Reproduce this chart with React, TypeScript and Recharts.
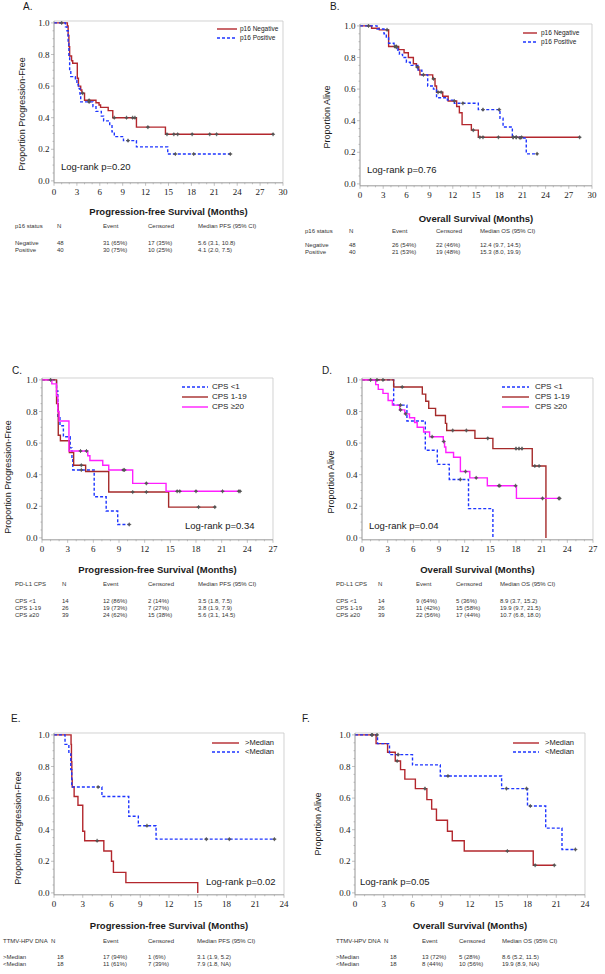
import React from 'react';
import { LineChart, Line, XAxis, YAxis, ReferenceArea } from 'recharts';

// each row: [months, survival] or [months, survival, 1] for a censored mark
type KM = number[][];

// A. PFS by p16
const pfsP16Neg: KM = [
  [0, 1], [1.75, 0.98], [1.85, 0.92], [1.95, 0.85], [2.05, 0.79], [2.3, 0.76], [2.45, 0.745],
  [3.05, 0.65], [3.2, 0.6], [3.5, 0.575], [3.65, 0.555], [3.75, 0.555, 1], [4.0, 0.51], [4.6, 0.51, 1],
  [5.5, 0.495], [5.9, 0.48], [6.1, 0.465], [7.1, 0.445], [7.7, 0.4], [7.9, 0.4, 1], [9.5, 0.4, 1],
  [10.3, 0.4, 1], [10.6, 0.4, 1], [10.8, 0.34], [12.3, 0.34, 1], [14.6, 0.295], [14.8, 0.295, 1],
  [15.7, 0.295, 1], [16.2, 0.295, 1], [18.1, 0.295, 1], [20.4, 0.295, 1], [21.3, 0.295, 1], [28.7, 0.295, 1],
];
const pfsP16Pos: KM = [
  [0, 1], [1.0, 1, 1], [1.5, 0.975], [1.7, 0.95], [1.85, 0.87], [1.95, 0.78], [2.05, 0.7], [2.2, 0.66],
  [2.8, 0.635], [3.0, 0.61], [3.2, 0.585], [3.4, 0.55], [3.5, 0.5], [4.6, 0.5, 1], [5.1, 0.47],
  [5.5, 0.44], [6.2, 0.41], [6.5, 0.38], [7.3, 0.35], [7.6, 0.31], [7.9, 0.28], [9.1, 0.255],
  [9.7, 0.255, 1], [10.8, 0.215], [14.9, 0.17], [15.9, 0.17, 1], [18.3, 0.17, 1], [23.1, 0.17, 1],
];

// B. OS by p16
const osP16Neg: KM = [
  [0, 1], [1.1, 1, 1], [1.5, 0.985], [2.5, 0.975], [3.5, 0.975, 1], [3.7, 0.87], [4.5, 0.87, 1],
  [4.7, 0.87, 1], [5.0, 0.85], [5.7, 0.83], [6.25, 0.8], [6.9, 0.76], [7.3, 0.74], [7.4, 0.74, 1],
  [7.6, 0.72], [7.75, 0.69], [8.2, 0.69, 1], [9.4, 0.665], [9.5, 0.665, 1], [9.7, 0.62], [9.9, 0.58],
  [10.1, 0.58, 1], [10.5, 0.58, 1], [10.7, 0.555], [11.4, 0.525], [12.2, 0.525, 1], [12.5, 0.49],
  [12.85, 0.45], [13.2, 0.375], [14.4, 0.34], [14.65, 0.34, 1], [15.3, 0.295], [15.5, 0.295, 1],
  [15.9, 0.295, 1], [17.9, 0.295, 1], [19.8, 0.295, 1], [20.2, 0.295, 1], [20.9, 0.295, 1], [28.4, 0.295, 1],
];
const osP16Pos: KM = [
  [0, 1], [2.2, 0.98], [3.1, 0.95], [3.4, 0.93], [3.7, 0.89], [4.4, 0.87], [4.7, 0.865, 1], [4.9, 0.84],
  [5.1, 0.82], [5.5, 0.8], [6.0, 0.77], [6.5, 0.75], [7.5, 0.72], [8.0, 0.69], [8.75, 0.62], [9.5, 0.6],
  [9.9, 0.545], [11.3, 0.53], [12.2, 0.51], [13.3, 0.51, 1], [15.3, 0.47], [15.9, 0.47, 1], [18.0, 0.47, 1],
  [18.1, 0.415], [18.5, 0.36], [19.7, 0.295], [19.8, 0.295, 1], [20.2, 0.295, 1], [20.7, 0.29, 1],
  [21.5, 0.19], [22.9, 0.19, 1],
];

// C. PFS by PD-L1 CPS
const pfsCpsLow: KM = [
  [0, 1], [1.0, 1, 1], [1.7, 0.93], [1.85, 0.77], [2.1, 0.71], [2.5, 0.64], [3.3, 0.57], [3.5, 0.5],
  [3.6, 0.43], [4.6, 0.43, 1], [6.1, 0.26], [7.5, 0.17], [8.85, 0.085], [10.2, 0.085, 1],
];
const pfsCpsMid: KM = [
  [0, 1], [1.7, 0.85], [1.9, 0.65], [2.15, 0.615], [3.2, 0.54], [3.7, 0.46], [4.6, 0.46, 1], [5.1, 0.42],
  [7.8, 0.29], [10.6, 0.29, 1], [12.2, 0.29, 1], [14.8, 0.195], [18.3, 0.195, 1], [20.2, 0.195, 1],
];
const pfsCpsHigh: KM = [
  [0, 1], [1.15, 0.975], [1.7, 0.9], [1.85, 0.8], [2.0, 0.74], [3.15, 0.55], [4.5, 0.55, 1], [5.2, 0.55, 1],
  [5.35, 0.52], [5.6, 0.49], [7.1, 0.46], [7.8, 0.43], [9.5, 0.43, 1], [9.65, 0.43, 1], [10.6, 0.345],
  [12.2, 0.345, 1], [14.5, 0.295], [15.8, 0.295, 1], [16.1, 0.295, 1], [18.0, 0.295, 1], [21.1, 0.295, 1],
  [23.0, 0.295, 1], [23.15, 0.295, 1],
];

// D. OS by PD-L1 CPS
const osCpsLow: KM = [
  [0, 1], [3.7, 0.84], [4.5, 0.84, 1], [5.25, 0.74], [7.4, 0.555], [8.8, 0.465], [10.2, 0.37],
  [11.5, 0.37, 1], [12.45, 0.185], [15.3, 0],
];
const osCpsMid: KM = [
  [0, 1], [1.0, 1, 1], [1.75, 1, 1], [2.45, 1, 1], [3.7, 0.955], [4.7, 0.955, 1], [7.05, 0.91],
  [7.45, 0.865], [7.8, 0.82], [8.6, 0.775], [9.75, 0.725], [9.9, 0.68], [10.6, 0.68, 1], [12.2, 0.68, 1],
  [13.2, 0.63], [14.7, 0.63, 1], [15.3, 0.565], [18.0, 0.565, 1], [18.35, 0.565, 1], [18.7, 0.565, 1],
  [19.9, 0.455], [20.2, 0.455, 1], [20.7, 0.455, 1], [21.5, 0],
];
const osCpsHigh: KM = [
  [0, 1], [1.6, 0.97], [1.9, 0.94], [2.45, 0.915], [3.05, 0.87], [3.55, 0.84], [4.4, 0.81], [4.5, 0.81, 1],
  [5.0, 0.785], [5.1, 0.785, 1], [5.55, 0.76], [6.15, 0.73], [6.45, 0.7], [7.2, 0.67], [7.9, 0.64],
  [8.2, 0.64, 1], [9.5, 0.61], [9.55, 0.61, 1], [9.65, 0.575], [9.8, 0.54], [10.7, 0.51], [11.5, 0.42],
  [12.1, 0.42, 1], [12.6, 0.38], [13.35, 0.38, 1], [14.65, 0.33], [16.0, 0.33, 1], [16.1, 0.33, 1],
  [17.95, 0.33, 1], [18.05, 0.25], [21.1, 0.25, 1], [23.0, 0.25, 1], [23.1, 0.25, 1],
];

// E. PFS by TTMV-HPV DNA
const pfsTtmvHigh: KM = [
  [0, 1], [1.78, 0.94], [1.82, 0.83], [1.86, 0.72], [1.9, 0.67], [2.1, 0.61], [2.5, 0.555], [3.0, 0.39],
  [3.2, 0.33], [4.5, 0.33, 1], [5.2, 0.265], [6.0, 0.2], [6.2, 0.13], [7.5, 0.065], [15.0, 0],
];
const pfsTtmvLow: KM = [
  [0, 1], [1.15, 0.94], [1.55, 0.88], [1.75, 0.78], [1.85, 0.67], [4.6, 0.67, 1], [5.0, 0.61],
  [7.8, 0.485], [8.8, 0.425], [9.7, 0.425, 1], [10.65, 0.34], [15.9, 0.34, 1], [18.3, 0.34, 1], [23.0, 0.34, 1],
];

// F. OS by TTMV-HPV DNA
const osTtmvHigh: KM = [
  [0, 1], [1.8, 1, 1], [2.2, 0.945], [3.4, 0.89], [4.2, 0.835], [4.4, 0.835, 1], [4.75, 0.78], [5.2, 0.72],
  [6.3, 0.66], [7.3, 0.66, 1], [7.5, 0.59], [8.0, 0.53], [8.5, 0.46], [9.65, 0.39], [10.15, 0.33],
  [11.4, 0.265], [15.9, 0.265, 1], [18.6, 0.175], [18.8, 0.175, 1], [20.8, 0.175, 1],
];
const osTtmvLow: KM = [
  [0, 1], [1.75, 1, 1], [2.3, 1, 1], [2.35, 0.945], [3.6, 0.875], [4.5, 0.875, 1], [6.0, 0.81],
  [8.9, 0.74], [9.7, 0.74, 1], [15.3, 0.66], [15.8, 0.66, 1], [17.9, 0.66, 1], [18.0, 0.55],
  [18.3, 0.55, 1], [19.9, 0.41], [21.6, 0.275], [23.0, 0.275, 1],
];

const xMajor30 = [0, 3, 6, 9, 12, 15, 18, 21, 24, 27, 30];
const xMajor27 = [0, 3, 6, 9, 12, 15, 18, 21, 24, 27];
const xMajor24 = [0, 3, 6, 9, 12, 15, 18, 21, 24];
const yMajor = [0, 0.2, 0.4, 0.6, 0.8, 1.0];

// summary tables under each plot
const headP16Pfs = ['p16 status', 'N', 'Event', 'Censored', 'Median PFS (95% CI)'];
const rowsP16Pfs = [
  ['Negative', '48', '31 (65%)', '17 (35%)', '5.6 (3.1, 10.8)'],
  ['Positive', '40', '30 (75%)', '10 (25%)', '4.1 (2.0, 7.5)'],
];
const headP16Os = ['p16 status', 'N', 'Event', 'Censored', 'Median OS (95% CI)'];
const rowsP16Os = [
  ['Negative', '48', '26 (54%)', '22 (46%)', '12.4 (9.7, 14.5)'],
  ['Positive', '40', '21 (53%)', '19 (48%)', '15.3 (8.0, 19.9)'],
];
const headCpsPfs = ['PD-L1 CPS', 'N', 'Event', 'Censored', 'Median PFS (95% CI)'];
const rowsCpsPfs = [
  ['CPS <1', '14', '12 (86%)', '2 (14%)', '3.5 (1.8, 7.5)'],
  ['CPS 1-19', '26', '19 (73%)', '7 (27%)', '3.8 (1.9, 7.9)'],
  ['CPS ≥20', '39', '24 (62%)', '15 (38%)', '5.6 (3.1, 14.5)'],
];
const headCpsOs = ['PD-L1 CPS', 'N', 'Event', 'Censored', 'Median OS (95% CI)'];
const rowsCpsOs = [
  ['CPS <1', '14', '9 (64%)', '5 (36%)', '8.9 (3.7, 15.2)'],
  ['CPS 1-19', '26', '11 (42%)', '15 (58%)', '19.9 (9.7, 21.5)'],
  ['CPS ≥20', '39', '22 (56%)', '17 (44%)', '10.7 (6.8, 18.0)'],
];
const headTtmvPfs = ['TTMV-HPV DNA', 'N', 'Event', 'Censored', 'Median PFS (95% CI)'];
const rowsTtmvPfs = [
  ['>Median', '18', '17 (94%)', '1 (6%)', '3.1 (1.9, 5.2)'],
  ['<Median', '18', '11 (61%)', '7 (39%)', '7.9 (1.8, NA)'],
];
const headTtmvOs = ['TTMV-HPV DNA', 'N', 'Event', 'Censored', 'Median OS (95% CI)'];
const rowsTtmvOs = [
  ['>Median', '18', '13 (72%)', '5 (28%)', '8.6 (5.2, 11.5)'],
  ['<Median', '18', '8 (44%)', '10 (56%)', '19.9 (8.9, NA)'],
];

const SANS = '"Liberation Sans", Arial, sans-serif';
const SERIF = '"Liberation Serif", "Times New Roman", serif';
const RED = '#B3272D';
const DARKRED = '#A52A2A';
const BLUE = '#1E35FF';
const MAGENTA = '#FF1EFF';
const Y_LO = -0.012;
const Y_HI = 1.012;
const Y_AXIS_W = 40;
const X_AXIS_H = 16;
const RIGHT_PAD = 10;

function toRows(km: KM) {
  return km.map(([t, s, c]) => ({ t, s, c: c ? 1 : 0 }));
}

function steps(max: number, step: number) {
  const out: number[] = [];
  for (let i = 0; i * step <= max + 1e-9; i++) out.push(+(i * step).toFixed(4));
  return out;
}

const censorDot = (props: any) => {
  const { cx, cy, payload, index } = props;
  if (!payload || !payload.c || cx == null) return <g key={`n${index}`} />;
  return (
    <g key={`c${index}`}>
      <line x1={cx - 2} x2={cx + 2} y1={cy} y2={cy} stroke="#444" strokeWidth={0.7} />
      <line x1={cx} x2={cx} y1={cy - 2} y2={cy + 2} stroke="#444" strokeWidth={0.7} />
      <circle cx={cx} cy={cy} r={1.3} fill="#555" />
    </g>
  );
};

interface Series { name: string; data: KM; color: string; dash?: string }
interface Table { head: string[]; rows: string[][]; headY: number; rowY: number[]; headCols: number[]; rowCols: number[] }
interface Panel {
  letter: string; lx: number; ly: number;
  x0: number; x1: number; yTop: number; yBot: number;
  xMax: number; xMajor: number[];
  xTitle: string; xTitleY: number;
  yTitle: string; yTx: number; yTy: number;
  series: Series[];
  leg: { x0: number; x1: number; tx: number; ys: number[]; size: number };
  legendOrder: number[];
  lr: string; lrX: number; lrY: number;
  table: Table;
}

const panels: Panel[] = [
  {
    letter: 'A.', lx: 23, ly: 7, x0: 54, x1: 283, yTop: 23, yBot: 181, xMax: 30, xMajor: xMajor30,
    xTitle: 'Progression-free Survival (Months)', xTitleY: 212,
    yTitle: 'Proportion Progression-Free', yTx: 22, yTy: 114,
    series: [
      { name: 'p16 Negative', data: pfsP16Neg, color: RED },
      { name: 'p16 Positive', data: pfsP16Pos, color: BLUE, dash: '3 2' },
    ],
    leg: { x0: 217, x1: 237, tx: 240, ys: [29, 38], size: 6.5 }, legendOrder: [0, 1],
    lr: 'Log-rank p=0.20', lrX: 61, lrY: 167,
    table: { head: headP16Pfs, rows: rowsP16Pfs, headY: 226, rowY: [243, 250], headCols: [15, 57, 103, 148, 198], rowCols: [15, 57, 103, 148, 198] },
  },
  {
    letter: 'B.', lx: 330, ly: 7, x0: 360, x1: 592, yTop: 26, yBot: 184, xMax: 30, xMajor: xMajor30,
    xTitle: 'Overall Survival (Months)', xTitleY: 219,
    yTitle: 'Proportion Alive', yTx: 327, yTy: 117,
    series: [
      { name: 'p16 Negative', data: osP16Neg, color: RED },
      { name: 'p16 Positive', data: osP16Pos, color: BLUE, dash: '3 2' },
    ],
    leg: { x0: 523, x1: 537, tx: 541, ys: [33, 42], size: 6.5 }, legendOrder: [0, 1],
    lr: 'Log-rank p=0.76', lrX: 367, lrY: 170,
    table: { head: headP16Os, rows: rowsP16Os, headY: 231, rowY: [245, 252], headCols: [305, 349, 392, 436, 480], rowCols: [305, 349, 392, 436, 480] },
  },
  {
    letter: 'C.', lx: 12, ly: 371, x0: 42, x1: 273, yTop: 380, yBot: 538, xMax: 27, xMajor: xMajor27,
    xTitle: 'Progression-free Survival (Months)', xTitleY: 570,
    yTitle: 'Proportion Progression-Free', yTx: 8, yTy: 477,
    series: [
      { name: 'CPS <1', data: pfsCpsLow, color: BLUE, dash: '3 2' },
      { name: 'CPS 1-19', data: pfsCpsMid, color: DARKRED },
      { name: 'CPS ≥20', data: pfsCpsHigh, color: MAGENTA },
    ],
    leg: { x0: 182, x1: 208, tx: 212, ys: [387, 397, 407], size: 8 }, legendOrder: [0, 1, 2],
    lr: 'Log-rank p=0.34', lrX: 185, lrY: 526,
    table: { head: headCpsPfs, rows: rowsCpsPfs, headY: 584, rowY: [601, 608, 615], headCols: [15, 62, 103, 148, 198], rowCols: [15, 62, 103, 148, 198] },
  },
  {
    letter: 'D.', lx: 322, ly: 371, x0: 362, x1: 593, yTop: 380, yBot: 538, xMax: 27, xMajor: xMajor27,
    xTitle: 'Overall Survival (Months)', xTitleY: 570,
    yTitle: 'Proportion Alive', yTx: 331, yTy: 482,
    series: [
      { name: 'CPS <1', data: osCpsLow, color: BLUE, dash: '3 2' },
      { name: 'CPS 1-19', data: osCpsMid, color: DARKRED },
      { name: 'CPS ≥20', data: osCpsHigh, color: MAGENTA },
    ],
    leg: { x0: 502, x1: 529, tx: 535, ys: [387, 397, 407], size: 8 }, legendOrder: [0, 1, 2],
    lr: 'Log-rank p=0.04', lrX: 369, lrY: 526,
    table: { head: headCpsOs, rows: rowsCpsOs, headY: 584, rowY: [601, 608, 615], headCols: [336, 378, 416, 456, 500], rowCols: [336, 378, 416, 456, 500] },
  },
  {
    letter: 'E.', lx: 11, ly: 719, x0: 54, x1: 284, yTop: 735, yBot: 893, xMax: 24, xMajor: xMajor24,
    xTitle: 'Progression-free Survival (Months)', xTitleY: 926,
    yTitle: 'Proportion Progression-Free', yTx: 18, yTy: 828,
    series: [
      { name: '>Median', data: pfsTtmvHigh, color: RED },
      { name: '<Median', data: pfsTtmvLow, color: BLUE, dash: '3 2' },
    ],
    leg: { x0: 212, x1: 239, tx: 245, ys: [743, 752], size: 7.5 }, legendOrder: [0, 1],
    lr: 'Log-rank p=0.02', lrX: 206, lrY: 882,
    table: { head: headTtmvPfs, rows: rowsTtmvPfs, headY: 941, rowY: [957, 964], headCols: [3, 51, 103, 148, 197], rowCols: [3, 57, 103, 148, 197] },
  },
  {
    letter: 'F.', lx: 302, ly: 719, x0: 355, x1: 585, yTop: 735, yBot: 893, xMax: 24, xMajor: xMajor24,
    xTitle: 'Overall Survival (Months)', xTitleY: 926,
    yTitle: 'Proportion Alive', yTx: 318, yTy: 824,
    series: [
      { name: '>Median', data: osTtmvHigh, color: RED },
      { name: '<Median', data: osTtmvLow, color: BLUE, dash: '3 2' },
    ],
    leg: { x0: 513, x1: 539, tx: 545, ys: [743, 752], size: 7.5 }, legendOrder: [0, 1],
    lr: 'Log-rank p=0.05', lrX: 360, lrY: 882,
    table: { head: headTtmvOs, rows: rowsTtmvOs, headY: 941, rowY: [957, 964], headCols: [336, 384, 422, 459, 502], rowCols: [336, 390, 422, 459, 502] },
  },
];

const abs = (x: number, y: number, extra: React.CSSProperties = {}): React.CSSProperties => ({
  position: 'absolute', left: x, top: y, transform: 'translateY(-50%)', whiteSpace: 'nowrap', lineHeight: 1, ...extra,
});

function KMPanel({ p }: { p: Panel }) {
  const ppu = p.yBot - p.yTop;
  const plotTop = p.yTop - (Y_HI - 1) * ppu;
  const plotH = (Y_HI - Y_LO) * ppu;
  const left = p.x0 - Y_AXIS_W;
  const top = plotTop - 2;
  const width = Y_AXIS_W + (p.x1 - p.x0) + RIGHT_PAD;
  const height = plotH + 2 + X_AXIS_H;
  const xTicks = steps(p.xMax, 1);
  const yTicks = steps(1, 0.05);

  const XTick = (props: any) => {
    const { x, y, payload } = props;
    const major = p.xMajor.includes(payload.value);
    return (
      <g>
        <line x1={x} x2={x} y1={y} y2={y + (major ? 3 : 1.5)} stroke="#999" strokeWidth={0.6} />
        {major && (
          <text x={x} y={y + 6} dy="0.71em" textAnchor="middle" fontFamily={SERIF} fontSize={9} fill="#1a1a1a">
            {payload.value}
          </text>
        )}
      </g>
    );
  };
  const YTick = (props: any) => {
    const { x, y, payload } = props;
    const v = payload.value as number;
    const major = yMajor.some((m) => Math.abs(m - v) < 1e-6);
    return (
      <g>
        <line x1={x} x2={x - (major ? 3 : 1.5)} y1={y} y2={y} stroke="#999" strokeWidth={0.6} />
        {major && (
          <text x={x - 4.5} y={y} dy="0.35em" textAnchor="end" fontFamily={SERIF} fontSize={9} fill="#1a1a1a">
            {v.toFixed(1)}
          </text>
        )}
      </g>
    );
  };

  return (
    <>
      <div style={{ position: 'absolute', left, top, width, height }}>
        <LineChart width={width} height={height} margin={{ top: 2, right: RIGHT_PAD, bottom: 0, left: 0 }}>
          <XAxis
            dataKey="t" type="number" domain={[0, p.xMax]} ticks={xTicks} interval={0}
            allowDataOverflow height={X_AXIS_H} tickSize={0} tickMargin={0}
            tick={XTick} tickLine={false} axisLine={{ stroke: '#9a9a9a', strokeWidth: 0.8 }}
          />
          <YAxis
            type="number" domain={[Y_LO, Y_HI]} ticks={yTicks} interval={0} allowDataOverflow
            width={Y_AXIS_W} tickSize={0} tickMargin={0}
            tick={YTick} tickLine={false} axisLine={{ stroke: '#9a9a9a', strokeWidth: 0.8 }}
          />
          <ReferenceArea x1={0} x2={p.xMax} y1={Y_LO} y2={Y_HI} fill="none" fillOpacity={0} stroke="#c8c8c8" strokeWidth={0.8} />
          {p.series.map((s) => (
            <Line
              key={s.name}
              data={toRows(s.data)}
              dataKey="s"
              type="stepAfter"
              stroke={s.color}
              strokeWidth={1.4}
              strokeDasharray={s.dash}
              dot={censorDot}
              activeDot={false}
              isAnimationActive={false}
            />
          ))}
        </LineChart>
      </div>

      <div style={abs(p.lx, p.ly, { fontFamily: SANS, fontSize: 10, color: '#1a1a1a' })}>{p.letter}</div>
      <div style={abs((p.x0 + p.x1) / 2, p.xTitleY, { transform: 'translate(-50%,-50%)', fontFamily: SANS, fontSize: 9.5, fontWeight: 'bold', color: '#1a1a1a' })}>
        {p.xTitle}
      </div>
      <div style={abs(p.yTx, p.yTy, { transform: 'translate(-50%,-50%) rotate(-90deg)', fontFamily: SANS, fontSize: 9, color: '#1a1a1a' })}>
        {p.yTitle}
      </div>
      <div style={abs(p.lrX, p.lrY, { fontFamily: SANS, fontSize: 9.5, color: '#1a1a1a' })}>{p.lr}</div>

      {p.legendOrder.map((si, i) => {
        const s = p.series[si];
        const y = p.leg.ys[i];
        return (
          <React.Fragment key={s.name}>
            <svg style={{ position: 'absolute', left: p.leg.x0, top: y - 2 }} width={p.leg.x1 - p.leg.x0} height={4}>
              <line x1={0} x2={p.leg.x1 - p.leg.x0} y1={2} y2={2} stroke={s.color} strokeWidth={1.4} strokeDasharray={s.dash} />
            </svg>
            <div style={abs(p.leg.tx, y, { fontFamily: SANS, fontSize: p.leg.size, color: '#1a1a1a' })}>{s.name}</div>
          </React.Fragment>
        );
      })}

      {p.table.head.map((h, j) => (
        <div key={`h${j}`} style={abs(p.table.headCols[j], p.table.headY, { fontFamily: SANS, fontSize: 6, color: '#333' })}>{h}</div>
      ))}
      {p.table.rows.map((r, i) =>
        r.map((cell, j) => (
          <div key={`r${i}-${j}`} style={abs(p.table.rowCols[j], p.table.rowY[i], { fontFamily: SANS, fontSize: 6, color: '#333' })}>{cell}</div>
        ))
      )}
    </>
  );
}

export default function App() {
  return (
    <div style={{ position: 'absolute', left: 0, top: 0, width: 605, height: 974, background: '#fff', overflow: 'hidden' }}>
      {panels.map((p) => (
        <KMPanel key={p.letter} p={p} />
      ))}
    </div>
  );
}
